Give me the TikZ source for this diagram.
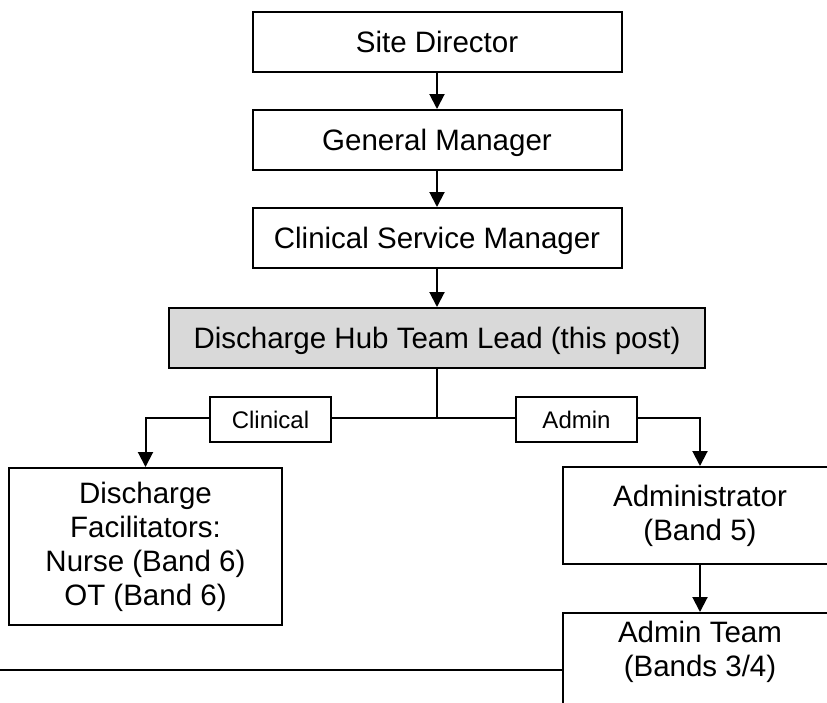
\documentclass[tikz,border=0pt]{standalone}
\usepackage{fontspec}
\setmainfont{Liberation Sans}
\usetikzlibrary{positioning,arrows.meta}
\definecolor{hubgrey}{HTML}{D9D9D9}

\begin{document}
\begin{tikzpicture}[
x=1pt, y=-1pt,
font=\fontsize{29.5}{34}\selectfont,
post/.style={draw, line width=2pt, align=center, minimum height=60pt, inner sep=0pt},
oneline/.style={text height=21pt, text depth=0pt},
tag/.style={draw, line width=2pt, minimum width=121pt, minimum height=45pt, inner sep=0pt, text height=17pt, text depth=0pt, font=\fontsize{24}{28}\selectfont},
arrow/.style={-{Triangle[length=15pt,width=15pt]}, line width=2pt},
link/.style={line width=2pt},
node distance=36pt
]
\useasboundingbox (0,0) rectangle (827,702);
\clip (0,0) rectangle (827,702);
\node[post, oneline, minimum width=369pt] (sd) at (437,42) {Site Director};
\node[post, oneline, minimum width=369pt, below=of sd] (gm) {General Manager};
\node[post, oneline, minimum width=369pt, below=of gm] (csm) {Clinical Service Manager};
\node[post, oneline, minimum width=536pt, fill=hubgrey, below=38pt of csm] (hub) {Discharge Hub Team Lead (this post)};
\draw[arrow] (sd)--(gm);
\draw[arrow] (gm)--(csm);
\draw[arrow] (csm)--(hub);
\coordinate[below=49pt of hub] (split);
\node[tag] (clin) at (270.5,419.5) {Clinical};
\node[tag] (adm) at (576.5,419.5) {Admin};
\node[post, minimum width=273pt, minimum height=157pt] (fac) at (145.5,546.5) {Discharge\\Facilitators:\\Nurse (Band 6)\\OT (Band 6)};
\node[post, minimum width=274pt, minimum height=97pt] (admr) at (700,515.5) {Administrator\\(Band 5)};
\node[post, minimum width=274pt, minimum height=0pt, inner ysep=8pt, text depth=80pt, anchor=north] (team) at (700,612) {Admin Team\\(Bands 3/4)};
\draw[link] (hub.south)--(split);
\draw[link] (split)--(split -| clin.east);
\draw[link] (split)--(split -| adm.west);
\draw[arrow] (clin.west |- split) -| (fac.north);
\draw[arrow] (adm.east |- split) -| (admr.north);
\draw[arrow] (admr)--(team);
\coordinate (margin) at (0,670);
\draw[link] (margin)--(margin -| team.west);
\end{tikzpicture}
\end{document}
